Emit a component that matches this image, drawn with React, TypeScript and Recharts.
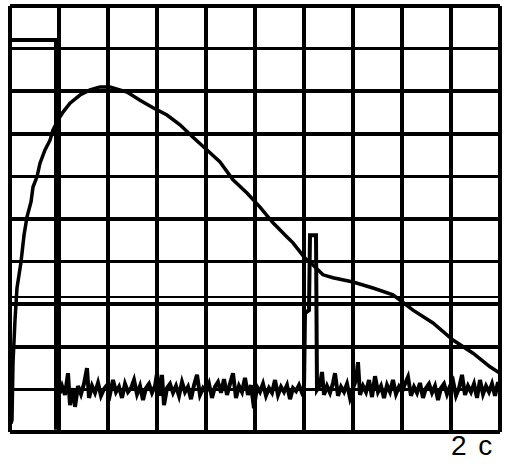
import { CartesianGrid, Line, LineChart, ReferenceLine, XAxis, YAxis } from "recharts";

// horizontal: 10 divisions x 49 samples, vertical: 10 divisions
const sampleTicks = [0, 49, 98, 147, 196, 245, 294, 343, 392, 441, 490];
const divTicks = [0, 1, 2, 3, 4, 5, 6, 7, 8, 9, 10];
const triggerLevel = 3.17;
const timeLabel = "2 с";

// trace A: smooth rise and slow decay
const traceA: [number, number][] = [
  [1, 0.2], [2, 0.28], [3, 1.62], [5, 2.63], [7, 3.38], [11, 3.99], [14, 4.62], [17, 5.05],
  [21, 5.4], [23, 5.75], [27, 5.99], [30, 6.31], [35, 6.62], [40, 6.85], [43, 7.09],
  [48, 7.32], [53, 7.51], [60, 7.72], [70, 7.91], [80, 8.03], [90, 8.1], [100, 8.1],
  [117, 7.98], [130, 7.79], [143, 7.61], [157, 7.44], [170, 7.21], [183, 6.92],
  [197, 6.62], [210, 6.34], [223, 5.92], [237, 5.61], [250, 5.28], [263, 4.91],
  [277, 4.58], [283, 4.44], [295, 4.08], [303, 3.92], [313, 3.69], [323, 3.62],
  [343, 3.52], [363, 3.38], [383, 3.22], [403, 2.86], [423, 2.56], [443, 2.16],
  [463, 1.85], [480, 1.53], [490, 1.38],
];

// trace B: gate pulse, then noisy baseline with a short pulse
const pulseHead: [number, number][] = [
  [0, 9.2], [46, 9.2], [46, 0.1], [48, 0.1], [48, 0.94], [50, 0.94],
];

const noiseA: [number, number][] = [
  [52, 1.08], [55, 0.87], [58, 1.38], [60, 0.63], [63, 1.03], [65, 0.59], [68, 1.08],
  [71, 0.89], [74, 1.13], [77, 1.5], [79, 0.8], [82, 1.08], [85, 0.92], [88, 1.15],
  [91, 0.85], [94, 1.01], [97, 1.1], [100, 0.89], [103, 1.22], [106, 0.94], [109, 1.06],
  [112, 0.8], [115, 1.13], [118, 0.94], [121, 1.03], [124, 1.22], [127, 0.89], [130, 1.08],
  [133, 0.75], [136, 1.03], [139, 1.13], [142, 0.92], [145, 1.08], [147, 1.38], [150, 0.85],
  [152, 1.34], [154, 0.63], [157, 1.03], [160, 1.13], [163, 0.92], [166, 1.08], [169, 0.85],
  [172, 1.17], [175, 0.94], [178, 1.06], [181, 0.77], [184, 1.1], [187, 1.34], [190, 0.87],
  [193, 1.03], [196, 0.94], [199, 1.13], [202, 0.8], [205, 1.06], [208, 1.17], [211, 0.92],
  [214, 1.24], [217, 0.87], [220, 1.13], [223, 1.38], [226, 0.8], [229, 1.08], [232, 0.94],
  [235, 1.27], [238, 0.87], [241, 1.1], [244, 0.56], [247, 1.06], [250, 0.94], [253, 1.13],
  [256, 0.85], [259, 1.03], [262, 0.92], [265, 1.22], [268, 0.87], [271, 1.06], [274, 0.94],
  [277, 1.1], [280, 0.77], [283, 1.03], [286, 0.96], [289, 1.1], [292, 0.92],
];

const spike: [number, number][] = [
  [294, 0.99], [295, 2.79], [299, 2.86], [300, 4.62], [306, 4.62], [307, 0.99],
];

const noiseB: [number, number][] = [
  [310, 1.1], [312, 1.41], [314, 0.87], [317, 1.08], [320, 0.92], [323, 1.15], [325, 1.38],
  [328, 0.85], [331, 1.06], [334, 0.94], [337, 1.13], [340, 0.8], [343, 1.03], [346, 1.22],
  [348, 1.64], [350, 0.87], [353, 1.08], [356, 0.94], [359, 1.22], [362, 0.82], [365, 1.31],
  [368, 0.94], [371, 1.08], [374, 0.8], [377, 1.1], [380, 0.94], [383, 1.22], [386, 0.89],
  [389, 1.06], [392, 0.94], [395, 1.13], [398, 1.29], [401, 0.85], [404, 1.06], [407, 0.92],
  [410, 1.15], [413, 0.8], [416, 1.03], [419, 1.13], [422, 0.92], [425, 1.08], [428, 0.75],
  [431, 1.03], [434, 1.13], [437, 0.89], [440, 1.08], [443, 1.2], [446, 0.85], [449, 1.03],
  [452, 1.34], [455, 0.87], [458, 1.08], [461, 0.94], [464, 1.13], [467, 0.8], [470, 1.22],
  [473, 0.89], [476, 1.08], [479, 0.94], [482, 1.13], [485, 0.85], [488, 1.17], [490, 0.99],
];

const toRows = (pts: [number, number][]) => pts.map(([t, v]) => ({ t, v }));

const App = () => {
  const rowsA = toRows(traceA);
  const rowsB = toRows([...pulseHead, ...noiseA, ...spike, ...noiseB]);

  return (
    <div style={{ position: "absolute", left: 0, top: 0, width: 510, height: 471, background: "#fff" }}>
      <LineChart width={510} height={471} margin={{ top: 6, right: 10, bottom: 39, left: 10 }}>
        <CartesianGrid stroke="#000" strokeWidth={3.5} shapeRendering="crispEdges" />
        <XAxis type="number" dataKey="t" domain={[0, 490]} ticks={sampleTicks} hide />
        <YAxis type="number" domain={[0, 10]} ticks={divTicks} hide />
        <ReferenceLine y={triggerLevel} stroke="#000" strokeWidth={2} shapeRendering="crispEdges" />
        <Line data={rowsA} dataKey="v" type="linear" stroke="#000" strokeWidth={3.5} dot={false} isAnimationActive={false} />
        <Line data={rowsB} dataKey="v" type="linear" stroke="#000" strokeWidth={4} dot={false} isAnimationActive={false} />
      </LineChart>
      <div
        style={{
          position: "absolute",
          left: 451,
          top: 432,
          fontFamily: "'Liberation Sans', Arial, sans-serif",
          fontSize: 28,
          lineHeight: "28px",
          wordSpacing: 4,
          whiteSpace: "pre",
          color: "#000",
        }}
      >
        {timeLabel}
      </div>
    </div>
  );
};

export default App;
